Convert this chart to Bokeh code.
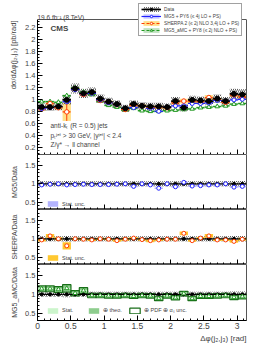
import numpy as np
from bokeh.plotting import figure
from bokeh.layouts import column
from bokeh.models import (ColumnDataSource, Legend, LegendItem, Label, Range1d, Title, Span,
                          LinearAxis, SingleIntervalTicker, CustomJSTickFormatter)
from bokeh.embed import file_html
from bokeh.resources import INLINE

# ------------------------------------------------------------------ data
N_BINS = 25
X_MAX = np.pi

data_xsec = [0.87, 0.87, 0.88, 0.99, 1.18, 1.10, 1.12, 1.01, 0.96, 0.92, 0.85, 0.92, 0.89,
             0.88, 0.88, 0.87, 0.97, 0.86, 0.99, 0.98, 0.97, 1.01, 0.97, 1.09, 1.08]
data_stat = [0.02, 0.02, 0.02, 0.03, 0.03, 0.03, 0.03, 0.02, 0.02, 0.02, 0.02, 0.02, 0.02,
             0.02, 0.02, 0.02, 0.02, 0.02, 0.02, 0.02, 0.02, 0.02, 0.02, 0.03, 0.03]
data_tot_rel = [0.07, 0.07, 0.07, 0.08, 0.07, 0.07, 0.07, 0.07, 0.07, 0.07, 0.07, 0.07, 0.07,
                0.07, 0.07, 0.07, 0.07, 0.07, 0.07, 0.07, 0.07, 0.07, 0.07, 0.08, 0.08]

mg5_xsec = [0.845, 0.86, 0.88, 0.96, 1.16, 1.09, 1.10, 0.99, 0.94, 0.91, 0.85, 0.86, 0.89,
            0.85, 0.80, 0.87, 0.89, 0.89, 0.93, 0.93, 0.94, 0.98, 0.97, 0.99, 1.00]
mg5_err = [0.01] * 25
sherpa_xsec = [0.84, 0.93, 0.86, 0.79, 1.17, 1.08, 1.11, 0.98, 0.95, 0.91, 0.83, 0.90, 0.89,
               0.87, 0.87, 0.86, 0.94, 0.97, 0.97, 0.96, 1.03, 1.00, 0.95, 1.07, 1.04]
sherpa_err = [0.03, 0.04, 0.03, 0.15, 0.03, 0.03, 0.03, 0.03, 0.03, 0.03, 0.03, 0.03, 0.03,
              0.03, 0.03, 0.03, 0.03, 0.04, 0.03, 0.03, 0.04, 0.03, 0.03, 0.03, 0.03]
amc_xsec = [0.96, 0.96, 0.95, 1.06, 1.19, 1.12, 1.08, 0.97, 0.90, 0.87, 0.82, 0.85, 0.81,
            0.80, 0.80, 0.81, 0.82, 0.83, 0.84, 0.86, 0.87, 0.88, 0.89, 0.92, 0.93]
amc_err = [0.02] * 25

mg5_ratio = [0.97, 0.99, 1.00, 0.97, 0.98, 0.99, 0.98, 0.98, 0.98, 0.99, 1.00, 0.93, 1.00,
             0.97, 0.88, 1.00, 0.92, 1.04, 0.94, 0.95, 0.97, 0.97, 1.00, 0.91, 0.93]
mg5_stat = [0.02] * 25
sherpa_ratio = [0.97, 1.08, 1.00, 0.81, 1.00, 0.99, 0.97, 1.00, 0.99, 0.95, 0.99, 1.02, 0.98,
                0.95, 0.97, 0.99, 0.99, 1.15, 0.95, 1.02, 1.08, 0.97, 0.97, 0.93, 0.99]
sherpa_stat = [0.04, 0.05, 0.04, 0.10, 0.03, 0.03, 0.03, 0.03, 0.03, 0.03, 0.04, 0.03, 0.03,
               0.04, 0.03, 0.03, 0.03, 0.05, 0.03, 0.03, 0.05, 0.03, 0.03, 0.04, 0.04]
amc_ratio = [1.15, 1.15, 1.13, 1.16, 1.03, 1.10, 0.97, 0.97, 0.96, 0.96, 0.97, 0.95, 0.97,
             0.96, 0.89, 0.96, 0.91, 1.02, 0.89, 0.95, 0.95, 0.96, 0.97, 0.92, 0.94]
amc_stat = [0.02] * 25
amc_theo = [0.07, 0.07, 0.07, 0.09, 0.06, 0.07, 0.05, 0.05, 0.05, 0.05, 0.05, 0.05, 0.05,
            0.05, 0.05, 0.05, 0.05, 0.05, 0.05, 0.05, 0.05, 0.05, 0.05, 0.05, 0.05]
amc_pdf = [0.08, 0.08, 0.08, 0.10, 0.07, 0.08, 0.06, 0.06, 0.06, 0.06, 0.06, 0.06, 0.06,
           0.06, 0.06, 0.06, 0.06, 0.06, 0.06, 0.06, 0.06, 0.06, 0.06, 0.06, 0.06]

legend_labels = ["Data", "MG5 + PY6 (≤ 4j LO + PS)", "SHERPA 2 (≤ 2j NLO 3,4j LO + PS)",
                 "MG5_aMC + PY8 (≤ 2j NLO + PS)"]

MAIN_Y = (0.08, 2.33)     # visible y extent of the main panel
RATIO_Y = (0.3, 1.8)

# ------------------------------------------------------------------ helpers
FONT = "Liberation Sans"
BLUE, BLUE_BAND = "#2020ff", "#b4b4ff"
RED, ORANGE = "#ff3c00", "#ffc21a"
GREEN, GREEN_MED, GREEN_LIGHT, GREEN_DARK = "#229922", "#82c882", "#ccf5cc", "#186e18"
HATCH = "#333333"
EDGE = "#555555"

edges = np.linspace(0, X_MAX, N_BINS + 1)
lo, hi = edges[:-1], edges[1:]
ctr = 0.5 * (lo + hi)
A = np.array

xr = Range1d(0, X_MAX)
FW, LB, RB = 209, 37, 20
fmt = CustomJSTickFormatter(code="return (Math.round(tick*10)/10).toString();")
blank = CustomJSTickFormatter(code="return '';")


def style_axis(ax):
    ax.major_tick_in = 5
    ax.major_tick_out = 0
    ax.minor_tick_in = 2
    ax.minor_tick_out = 0
    ax.axis_line_color = "black"
    ax.major_tick_line_color = "black"
    ax.minor_tick_line_color = "black"
    ax.formatter = fmt
    ax.major_label_text_font = FONT
    ax.major_label_standoff = 2


def make_fig(frame_h, yr, yint, ynminor, top=0, bottom=0, xlabels=False):
    p = figure(frame_width=FW, frame_height=frame_h, x_range=xr, y_range=Range1d(*yr),
               output_backend="svg", toolbar_location=None,
               min_border_left=LB, min_border_right=RB, min_border_top=top,
               min_border_bottom=bottom)
    p.grid.visible = False
    p.outline_line_color = EDGE
    p.outline_line_width = 1
    p.xaxis.ticker = SingleIntervalTicker(interval=0.5, num_minor_ticks=5)
    p.yaxis.ticker = SingleIntervalTicker(interval=yint, num_minor_ticks=ynminor)
    for ax in list(p.xaxis) + list(p.yaxis):
        style_axis(ax)
    p.yaxis.major_label_text_font_size = "7.5px"
    if xlabels:
        p.xaxis.major_label_text_font_size = "8.5px"
    else:
        p.xaxis.formatter = blank
        p.xaxis.major_label_text_font_size = "1px"
        p.xaxis.major_label_standoff = 0
    return p


def label(p, x, y, text, size, **kw):
    p.add_layout(Label(x=x, y=y, x_units="screen", y_units="screen", text=text,
                       text_font=FONT, text_font_size=size, **kw))


def side_title(p, text, place, size, align, offset=0, standoff=10):
    p.add_layout(Title(text=text, align=align, offset=offset, standoff=standoff,
                       text_font=FONT, text_font_size=size, text_font_style="normal"), place)


# ------------------------------------------------------------------ main panel
MAIN_H, TOP_PAD = 154, 19           # frame reaches the canvas top; box drawn from MAIN_Y
px_per_unit = (MAIN_H - TOP_PAD) / (MAIN_Y[1] - MAIN_Y[0])
p0 = make_fig(MAIN_H, (MAIN_Y[0], MAIN_Y[1] + TOP_PAD / px_per_unit), 0.2, 4)
p0.outline_line_color = None
p0.yaxis.bounds = MAIN_Y
right_edge = LinearAxis(bounds=MAIN_Y, formatter=blank, major_tick_in=0, major_tick_out=0,
                        minor_tick_in=0, minor_tick_out=0, axis_line_color=EDGE,
                        major_label_text_font_size="1px", major_label_standoff=0)
p0.add_layout(right_edge, "right")
p0.add_layout(Span(location=MAIN_Y[1], dimension="width", line_color=EDGE, line_width=1))

d = A(data_xsec)
src_d = ColumnDataSource(dict(lo=lo, hi=hi, x=ctr, y=d,
                              top=d * (1 + A(data_tot_rel)), bot=d * (1 - A(data_tot_rel)),
                              ylo=d - A(data_stat), yhi=d + A(data_stat)))


def pred_src(vals, errs):
    v = A(vals)
    return ColumnDataSource(dict(lo=lo, hi=hi, x=ctr, y=v, top=v + A(errs), bot=v - A(errs)))


s_mg5, s_sh, s_amc = pred_src(mg5_xsec, mg5_err), pred_src(sherpa_xsec, sherpa_err), pred_src(amc_xsec, amc_err)

r_mg5_band = p0.quad(left="lo", right="hi", top="top", bottom="bot", source=s_mg5,
                     fill_color=BLUE_BAND, fill_alpha=0.6, line_color=None)
r_sh_band = p0.quad(left="lo", right="hi", top="top", bottom="bot", source=s_sh,
                    fill_color=ORANGE, fill_alpha=0.5, line_color=None)
r_amc_band = p0.quad(left="lo", right="hi", top="top", bottom="bot", source=s_amc,
                     fill_color=GREEN_MED, fill_alpha=0.5, line_color=None)
r_d_hatch = p0.quad(left="lo", right="hi", top="top", bottom="bot", source=src_d,
                    fill_color=None, line_color=None, hatch_pattern="/",
                    hatch_color=HATCH, hatch_scale=4, hatch_weight=0.8)

r_amc_seg = p0.segment(x0="lo", x1="hi", y0="y", y1="y", source=s_amc, line_color=GREEN,
                       line_width=1.2, line_dash="3 2")
r_sh_seg = p0.segment(x0="lo", x1="hi", y0="y", y1="y", source=s_sh, line_color=RED,
                      line_width=1.2, line_dash="3 2")
p0.segment(x0="x", x1="x", y0="bot", y1="top", source=s_sh, line_color=RED, line_width=1)
r_mg5_seg = p0.segment(x0="lo", x1="hi", y0="y", y1="y", source=s_mg5, line_color=BLUE,
                       line_width=1.2)

r_amc_pt = p0.scatter(x="x", y="y", source=s_amc, marker="triangle", size=4.5,
                      fill_color="white", line_color=GREEN, line_width=1)
r_sh_pt = p0.scatter(x="x", y="y", source=s_sh, marker="circle", size=4.5,
                     fill_color="white", line_color=RED, line_width=1)
r_mg5_pt = p0.scatter(x="x", y="y", source=s_mg5, marker="circle", size=4,
                      fill_color="white", line_color=BLUE, line_width=1)

r_d_seg = p0.segment(x0="lo", x1="hi", y0="y", y1="y", source=src_d, line_color="black",
                     line_width=1.6)
p0.segment(x0="x", x1="x", y0="ylo", y1="yhi", source=src_d, line_color="black", line_width=1.2)
r_d_pt = p0.scatter(x="x", y="y", source=src_d, marker="circle", size=5,
                    fill_color="black", line_color="black")

leg = Legend(items=[
    LegendItem(label=legend_labels[0], renderers=[r_d_hatch, r_d_seg, r_d_pt]),
    LegendItem(label=legend_labels[1], renderers=[r_mg5_band, r_mg5_seg, r_mg5_pt]),
    LegendItem(label=legend_labels[2], renderers=[r_sh_band, r_sh_seg, r_sh_pt]),
    LegendItem(label=legend_labels[3], renderers=[r_amc_band, r_amc_seg, r_amc_pt]),
], location=(101, 118))
leg.label_text_font = FONT
leg.label_text_font_size = "4.8px"
leg.label_height = 6
leg.glyph_height = 6
leg.glyph_width = 20
leg.label_standoff = 3
leg.spacing = 1
leg.padding = 2
leg.margin = 0
leg.border_line_color = "#444444"
leg.border_line_width = 0.8
leg.background_fill_alpha = 1
p0.add_layout(leg)

label(p0, 0, MAIN_H - TOP_PAD + 2, "19.6 fb⁻¹ (8 TeV)", "6.5px", text_baseline="alphabetic")
label(p0, 13, MAIN_H - TOP_PAD - 4, "CMS", "8px", text_font_style="bold", text_baseline="top")
label(p0, 13, 29, "anti-kₜ (R = 0.5) jets", "6.5px", text_baseline="middle")
label(p0, 13, 19, "pₜʲᵉᵗ > 30 GeV, |yʲᵉᵗ| < 2.4", "6.5px", text_baseline="middle")
label(p0, 13, 10, "Z/γ* → ll channel", "6.5px", text_baseline="middle")
side_title(p0, "dσ/dΔφ(j₂,j₃) [pb/rad]", "left", "7.5px", "right", offset=20, standoff=9)


# ------------------------------------------------------------------ ratio panels
def ratio_base(frame_h, ylabel, bottom=0, xlabels=False):
    p = make_fig(frame_h, RATIO_Y, 0.5, 5, bottom=bottom, xlabels=xlabels)
    one = np.ones(N_BINS)
    rel = A(data_tot_rel)
    src = ColumnDataSource(dict(lo=lo, hi=hi, x=ctr, y=one, top=one + rel, bot=one - rel,
                                ylo=one - A(data_stat) / d, yhi=one + A(data_stat) / d))
    p.quad(left="lo", right="hi", top="top", bottom="bot", source=src, fill_color=None,
           line_color=None, hatch_pattern="/", hatch_color=HATCH, hatch_scale=4,
           hatch_weight=0.8)
    side_title(p, ylabel, "left", "7px", "center", offset=-3, standoff=9)
    return p, src


def data_on_top(p, src):
    p.segment(x0="lo", x1="hi", y0="y", y1="y", source=src, line_color="black", line_width=1.4)
    p.segment(x0="x", x1="x", y0="ylo", y1="yhi", source=src, line_color="black", line_width=1)
    p.scatter(x="x", y="y", source=src, marker="circle", size=3, fill_color="black",
              line_color="black")


def style_small_legend(lg, loc, horizontal=False):
    lg.location = loc
    lg.label_text_font = FONT
    lg.label_text_font_size = "5.5px"
    lg.label_height = 7
    lg.glyph_height = 7
    lg.glyph_width = 13
    lg.label_standoff = 3
    lg.padding = 1
    lg.spacing = 5
    lg.margin = 0
    lg.border_line_alpha = 0
    lg.background_fill_alpha = 0
    if horizontal:
        lg.orientation = "horizontal"


# MG5 / Data
p1, src1 = ratio_base(55, "MG5/Data")
r = A(mg5_ratio)
s = ColumnDataSource(dict(lo=lo, hi=hi, x=ctr, y=r, top=r + A(mg5_stat), bot=r - A(mg5_stat)))
rb1 = p1.quad(left="lo", right="hi", top="top", bottom="bot", source=s, fill_color=BLUE_BAND,
              line_color=None)
data_on_top(p1, src1)
p1.scatter(x="x", y="y", source=s, marker="circle", size=4, fill_color="white",
           line_color=BLUE, line_width=1)
lg1 = Legend(items=[LegendItem(label="Stat. unc.", renderers=[rb1])])
style_small_legend(lg1, (8, 1))
p1.add_layout(lg1)

# SHERPA / Data
p2, src2 = ratio_base(55, "SHERPA/Data")
r = A(sherpa_ratio)
s = ColumnDataSource(dict(lo=lo, hi=hi, x=ctr, y=r, top=r + A(sherpa_stat), bot=r - A(sherpa_stat)))
rb2 = p2.quad(left="lo", right="hi", top="top", bottom="bot", source=s, fill_color=ORANGE,
              line_color=None, fill_alpha=0.9)
data_on_top(p2, src2)
p2.scatter(x="x", y="y", source=s, marker="circle", size=4, fill_color="white",
           line_color=RED, line_width=1)
lg2 = Legend(items=[LegendItem(label="Stat. unc.", renderers=[rb2])])
style_small_legend(lg2, (8, 2))
p2.add_layout(lg2)

# MG5_aMC / Data
p3, src3 = ratio_base(56, "MG5_aMC/Data", bottom=24, xlabels=True)
r = A(amc_ratio)
s = ColumnDataSource(dict(lo=lo, hi=hi, x=ctr, y=r,
                          st_t=r + A(amc_stat), st_b=r - A(amc_stat),
                          th_t=r + A(amc_theo), th_b=r - A(amc_theo),
                          pd_t=r + A(amc_pdf), pd_b=r - A(amc_pdf)))
rth = p3.quad(left="lo", right="hi", top="th_t", bottom="th_b", source=s, fill_color=GREEN_MED,
              line_color=None, fill_alpha=0.9)
rst = p3.quad(left="lo", right="hi", top="st_t", bottom="st_b", source=s, fill_color=GREEN_LIGHT,
              line_color=None)
rpd = p3.quad(left="lo", right="hi", top="pd_t", bottom="pd_b", source=s, fill_color=None,
              line_color=GREEN_DARK, line_width=1.2)
data_on_top(p3, src3)
p3.scatter(x="x", y="y", source=s, marker="triangle", size=4.5, fill_color="white",
           line_color=GREEN, line_width=1)
lg3 = Legend(items=[LegendItem(label="Stat.", renderers=[rst]),
                    LegendItem(label="⊕ theo.", renderers=[rth]),
                    LegendItem(label="⊕ PDF ⊕ αₛ unc.", renderers=[rpd])])
style_small_legend(lg3, (8, 5), horizontal=True)
p3.add_layout(lg3)
side_title(p3, "Δφ(j₂,j₃) [rad]", "below", "8px", "right", standoff=0)

layout = column(p0, p1, p2, p3, spacing=0)
open("out.html", "w").write(file_html(layout, INLINE))
